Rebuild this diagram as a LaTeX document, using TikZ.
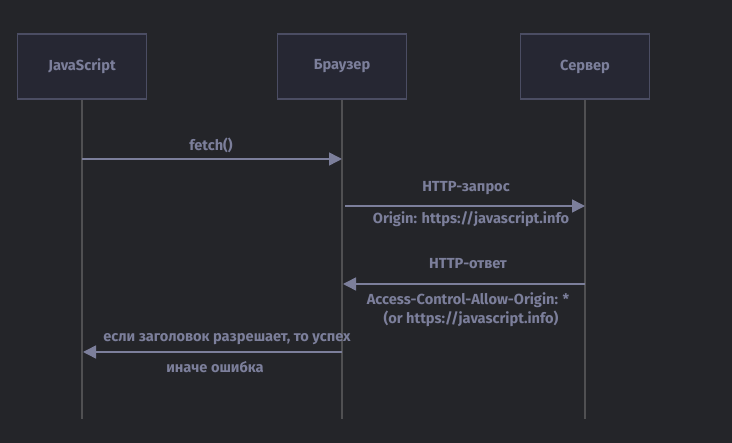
\documentclass[tikz,border=0pt]{standalone}
\usepackage{fontspec}
\setmainfont{Fira Sans}
\usetikzlibrary{arrows.meta}
\definecolor{bg}{HTML}{242529}
\definecolor{boxfill}{HTML}{262733}
\definecolor{boxline}{HTML}{4B4D63}
\definecolor{txt}{HTML}{7C7F9B}
\definecolor{life}{HTML}{505052}
\begin{document}
\begin{tikzpicture}[x=1pt,y=-1pt,
  actor/.style={draw=boxline,line width=1.5pt,fill=boxfill,minimum width=129pt,minimum height=65pt,inner sep=0pt,text=txt,font=\fontsize{14.6}{17}\selectfont\bfseries},
  lbl/.style={text=txt,font=\fontsize{14.6}{17}\selectfont\bfseries,inner sep=0pt},
  lifeline/.style={draw=life,line width=1.5pt},
  msg/.style={draw=txt,line width=1.5pt,-{Triangle[length=13pt,width=13pt]}}]
\fill[bg] (0,0) rectangle (732,443);
\useasboundingbox (0,0) rectangle (732,443);
\node[actor] (js) at (82,66.5) {JavaScript};
\node[actor] (br) at (342,66.5) {Браузер};
\node[actor] (sv) at (585,66.5) {Сервер};
\coordinate (jsend) at (82,419);
\coordinate (brend) at (342,419);
\coordinate (svend) at (585,419);
\draw[lifeline] (js.south) -- (jsend);
\draw[lifeline] (br.south) -- (brend);
\draw[lifeline] (sv.south) -- (svend);
% messages
\coordinate (m1a) at (82,159); \coordinate (m1b) at (342,159);
\draw[msg] (m1a) -- (m1b);
\node[lbl] (l1) at (211,145) {fetch()};
\coordinate (m2a) at (345,206); \coordinate (m2b) at (585,206);
\draw[msg] (m2a) -- (m2b);
\node[lbl] (l2) at (466,188) {HTTP-запрос};
\node[lbl] (l2b) at (471,219) {Origin: https://javascript.info};
\coordinate (m3a) at (585,284); \coordinate (m3b) at (343,284);
\draw[msg] (m3a) -- (m3b);
\node[lbl] (l3) at (468,264) {HTTP-ответ};
\node[lbl] (l3b) at (468,300) {Access-Control-Allow-Origin: *};
\node[lbl] (l3c) at (471,319) {(or https://javascript.info)};
\coordinate (m4a) at (342,352); \coordinate (m4b) at (83,352);
\draw[msg] (m4a) -- (m4b);
\node[lbl] (l4) at (227,339) {если заголовок разрешает, то успех};
\node[lbl] (l4b) at (215,367) {иначе ошибка};
\end{tikzpicture}
\end{document}
